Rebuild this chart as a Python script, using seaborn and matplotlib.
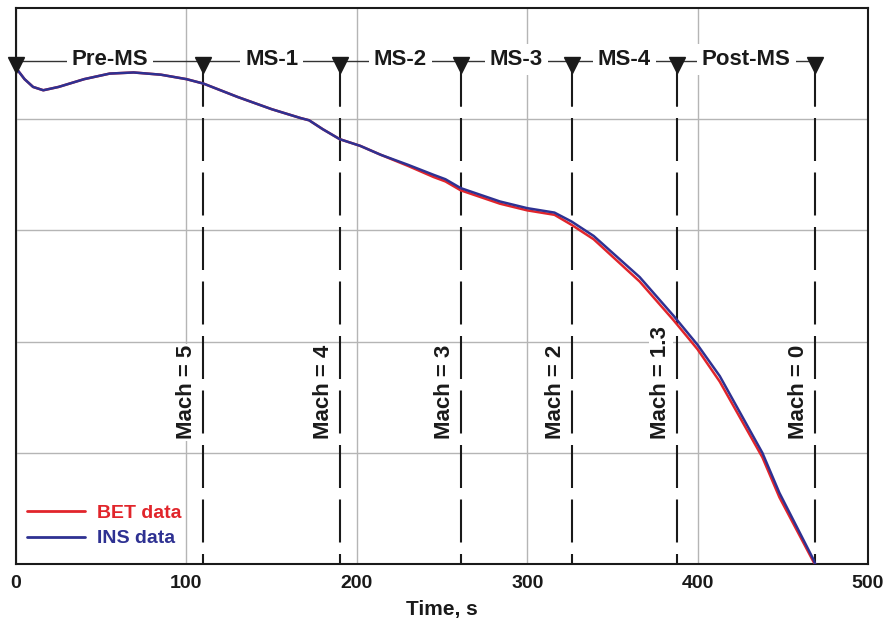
import numpy as np
import pandas as pd
import matplotlib.pyplot as plt
import seaborn as sns
from matplotlib.lines import Line2D

# Trajectory data (y axis has no units shown)
time_s = [0, 5, 10, 16, 25, 40, 55, 69, 85, 100, 110, 130, 150, 167, 172, 180,
          190, 202, 214, 230, 245, 252, 261, 284, 300, 316, 326, 339, 366, 386,
          400, 413, 438, 448, 458, 468, 469]
ins_data = [4.46, 4.36, 4.29, 4.26, 4.29, 4.36, 4.41, 4.42, 4.40, 4.36, 4.32,
            4.20, 4.09, 4.01, 3.99, 3.91, 3.82, 3.76, 3.68, 3.59, 3.50, 3.46,
            3.38, 3.26, 3.20, 3.16, 3.08, 2.95, 2.58, 2.23, 1.97, 1.69, 1.00,
            0.64, 0.34, 0.04, 0.00]
bet_data = [4.46, 4.36, 4.29, 4.26, 4.29, 4.36, 4.41, 4.42, 4.40, 4.36, 4.32,
            4.20, 4.09, 4.01, 3.99, 3.91, 3.82, 3.76, 3.68, 3.58, 3.48, 3.44,
            3.36, 3.24, 3.18, 3.14, 3.05, 2.92, 2.54, 2.19, 1.93, 1.64, 0.96,
            0.60, 0.31, 0.02, 0.00]

# Segment boundaries (s), segment names and Mach numbers at each boundary
boundaries = [0, 110, 190, 261, 326, 388, 469]
segments = ["Pre-MS", "MS-1", "MS-2", "MS-3", "MS-4", "Post-MS"]
mach_values = ["5", "4", "3", "2", "1.3", "0"]

RED = "#e1252b"
BLUE = "#2e3192"
INK = "#1a1a1a"

sns.set_theme(style="white")
plt.rcParams['font.family'] = ['Liberation Sans', 'DejaVu Sans']
plt.rcParams['font.weight'] = 'bold'

df = pd.DataFrame({
    "time": time_s * 2,
    "value": bet_data + ins_data,
    "source": ["BET data"] * len(time_s) + ["INS data"] * len(time_s),
})

fig = plt.figure(figsize=(8.9, 6.22), dpi=100)
ax = fig.add_axes([0.018, 0.0932, 0.9573, 0.894])

sns.lineplot(data=df, x="time", y="value", hue="source",
             hue_order=["BET data", "INS data"],
             palette={"BET data": RED, "INS data": BLUE},
             linewidth=1.8, legend=False, ax=ax, zorder=8)

ax.set_xlim(0, 500)
ax.set_ylim(0, 5)
ax.set_xticks([0, 100, 200, 300, 400, 500])
ax.set_yticks([1, 2, 3, 4])
ax.set_yticklabels([])
ax.grid(True, color="#b5b5b5", linewidth=1)
ax.set_axisbelow(True)
ax.tick_params(axis="both", length=0)
ax.tick_params(axis="x", pad=8, labelsize=14, colors=INK)
for lab in ax.get_xticklabels():
    lab.set_fontweight("bold")
ax.set_xlabel("Time, s", fontsize=15, fontweight="bold", color=INK, labelpad=6)
ax.set_ylabel("")
for sp in ax.spines.values():
    sp.set_color(INK)
    sp.set_linewidth(1.5)

# Segment bar along the top
bar_y = 4.52
ax.plot([boundaries[0], boundaries[-1]], [bar_y, bar_y], color="#333333",
        lw=1, zorder=5)
for i, name in enumerate(segments):
    mid = (boundaries[i] + boundaries[i + 1]) / 2
    ax.text(mid, bar_y + 0.02, name, ha="center", va="center", fontsize=16,
            fontweight="bold", color=INK, zorder=6,
            bbox=dict(fc="white", ec="none", pad=3.5))

dash = (43 * 0.72) / 1.5
gap = (11.5 * 0.72) / 1.5
for t, m in zip(boundaries[1:], mach_values):
    ax.plot([t, t], [bar_y, 4.12], color=INK, lw=1.5, zorder=5)
    ax.plot([t, t], [4.01, 0], color=INK, lw=1.5, zorder=5,
            linestyle=(0, (dash, gap)))
    ax.text(t - 3.5, 1.12, f"Mach = {m}", rotation=90, ha="right", va="bottom",
            fontsize=16, fontweight="bold", color=INK, zorder=6,
            bbox=dict(fc="white", ec="none", pad=1))
ax.plot(boundaries, [bar_y - 0.03] * len(boundaries), linestyle="none",
        marker="v", markersize=11, color=INK, zorder=9, clip_on=False)

handles = [Line2D([], [], color=RED, lw=2), Line2D([], [], color=BLUE, lw=2)]
ax.legend(handles, ["BET data", "INS data"], loc="lower left",
          bbox_to_anchor=(0.013, 0.03), frameon=False,
          handlelength=3.0, handletextpad=0.6, labelspacing=0.4,
          borderpad=0, borderaxespad=0, labelcolor=[RED, BLUE],
          prop={"weight": "bold", "size": 14})

fig.savefig("out.png", dpi=100)
